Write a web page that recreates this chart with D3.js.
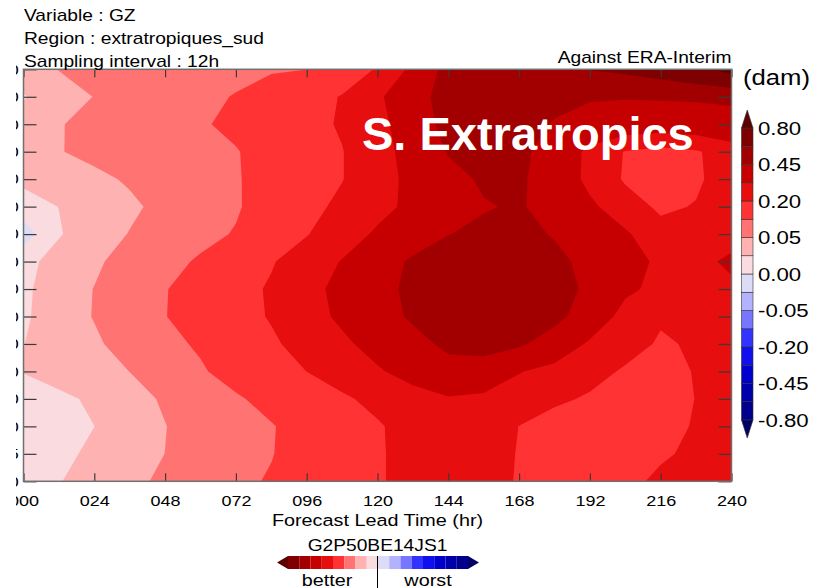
<!DOCTYPE html>
<html>
<head>
<meta charset="utf-8">
<script src="https://cdn.jsdelivr.net/npm/d3@7"></script>
<style>
  body { margin: 0; background: #fff; }
  text { font-family: "Liberation Sans", Arial, Helvetica, sans-serif; }
</style>
</head>
<body>
<div class="canvas"></div>
<script>
// forecast lead times (hr), one column per lead time
const leadTimes = [0, 12, 24, 36, 48, 60, 72, 84, 96, 108, 120, 132, 144, 156, 168, 180, 192, 204, 216, 228, 240];
const xTicks = [0, 24, 48, 72, 96, 120, 144, 168, 192, 216, 240];

// pressure levels (hPa), top of plot first
const levels = [10, 20, 30, 50, 70, 100, 150, 200, 250, 300, 400, 500, 700, 850, 925, 1000];

// GZ score difference (dam), one row per level, one value per lead time
const p10 = [0.035, 0.051, 0.058, 0.065, 0.072, 0.079, 0.086, 0.0925, 0.0993, 0.149, 0.207, 0.324, 0.5, 0.52, 0.54, 0.57, 0.605, 0.63, 0.68, 0.75, 0.86];
const p20 = [0.018, 0.0355, 0.0508, 0.0634, 0.0759, 0.0885, 0.1027, 0.1358, 0.1689, 0.2044, 0.278, 0.401, 0.5, 0.53, 0.52, 0.49, 0.46, 0.46, 0.465, 0.47, 0.48];
const p30 = [0.032, 0.048, 0.06, 0.0712, 0.0825, 0.0938, 0.1136, 0.1438, 0.174, 0.2085, 0.2675, 0.3628, 0.5, 0.55, 0.5, 0.44, 0.41, 0.37, 0.36, 0.37, 0.39];
const p50 = [0.03, 0.0484, 0.0587, 0.0682, 0.0777, 0.0872, 0.0967, 0.124, 0.1605, 0.197, 0.259, 0.342, 0.46, 0.52, 0.48, 0.395, 0.27, 0.195, 0.17, 0.19, 0.25];
const p70 = [0.025, 0.0323, 0.0425, 0.0538, 0.0676, 0.0814, 0.0953, 0.124, 0.1605, 0.197, 0.259, 0.327, 0.402, 0.47, 0.47, 0.3855, 0.27, 0.19, 0.14, 0.185, 0.25];
const p100 = [0.01, 0.0203, 0.0322, 0.0442, 0.059, 0.0765, 0.094, 0.129, 0.173, 0.22, 0.271, 0.323, 0.377, 0.44, 0.465, 0.395, 0.321, 0.24, 0.185, 0.205, 0.24];
const p150 = [-0.009, 0.018, 0.0347, 0.0513, 0.068, 0.0847, 0.1038, 0.1497, 0.1957, 0.2535, 0.314, 0.38, 0.4468, 0.48, 0.48, 0.442, 0.378, 0.314, 0.23, 0.25, 0.26];
const p200 = [0.012, 0.03, 0.0447, 0.0629, 0.083, 0.1067, 0.1499, 0.193, 0.247, 0.305, 0.3865, 0.47, 0.52, 0.54, 0.52, 0.48, 0.416, 0.344, 0.28, 0.27, 0.32];
const p250 = [0.015, 0.0338, 0.0508, 0.0738, 0.0968, 0.132, 0.169, 0.21, 0.266, 0.3307, 0.4076, 0.48, 0.54, 0.56, 0.55, 0.51, 0.422, 0.322, 0.27, 0.25, 0.28];
const p300 = [0.016, 0.0345, 0.0515, 0.0748, 0.0981, 0.1328, 0.1686, 0.2065, 0.26, 0.319, 0.3927, 0.47, 0.52, 0.53, 0.51, 0.49, 0.38, 0.26, 0.21, 0.22, 0.23];
const p400 = [0.0195, 0.0326, 0.0451, 0.0628, 0.0836, 0.1083, 0.1477, 0.187, 0.232, 0.28, 0.3384, 0.4048, 0.48, 0.5, 0.47, 0.382, 0.283, 0.233, 0.19, 0.21, 0.22];
const p500 = [0.021, 0.03, 0.04, 0.0502, 0.0714, 0.093, 0.125, 0.1624, 0.2005, 0.2439, 0.288, 0.34, 0.4, 0.39, 0.305, 0.2658, 0.2285, 0.19, 0.17, 0.205, 0.22];
const p700 = [0.008, 0.0149, 0.0238, 0.0384, 0.0539, 0.0731, 0.0923, 0.12, 0.153, 0.186, 0.225, 0.26, 0.29, 0.275, 0.25, 0.215, 0.19, 0.16, 0.16, 0.202, 0.22];
const p850 = [0.006, 0.0129, 0.0199, 0.0345, 0.0492, 0.0648, 0.0805, 0.0962, 0.125, 0.158, 0.191, 0.235, 0.265, 0.25, 0.199, 0.165, 0.14, 0.14, 0.16, 0.21, 0.23];
const p925 = [0.006, 0.0145, 0.0244, 0.0372, 0.0502, 0.0658, 0.0817, 0.0975, 0.1268, 0.1586, 0.1905, 0.23, 0.255, 0.24, 0.195, 0.16, 0.14, 0.15, 0.19, 0.215, 0.23];
const p1000 = [0.008, 0.0188, 0.0306, 0.0425, 0.0558, 0.0715, 0.0871, 0.1052, 0.1342, 0.1632, 0.1922, 0.225, 0.25, 0.235, 0.193, 0.16, 0.15, 0.18, 0.215, 0.225, 0.23];
const grid = [p10, p20, p30, p50, p70, p100, p150, p200, p250, p300, p400, p500, p700, p850, p925, p1000];

// contour levels and fill colours (one more colour than levels)
const contourLevels = [-0.8, -0.6, -0.45, -0.3, -0.2, -0.1, -0.05, -0.02, 0, 0.02, 0.05, 0.1, 0.2, 0.3, 0.45, 0.6, 0.8];
const bandColors = [
  '#000066', '#00008c', '#0000aa', '#0000cc', '#1010ee', '#3333ff', '#7676ff', '#b2b2ff', '#dddcf6',
  '#f9dbe0', '#ffb2b2', '#ff7373', '#ff3333', '#e60e0e', '#c60000', '#a20000', '#7e0000', '#5c0000'
];

const svg = d3.select('.canvas')
  .append('svg')
  .attr('width', 825)
  .attr('height', 588);

// the original figure was stretched sideways, so text is too
const stretch = 1.2;
const label = (parent, x, y, str, size, anchor = 'start') => parent.append('text')
  .attr('transform', `translate(${x},${y}) scale(${stretch},1)`)
  .attr('text-anchor', anchor)
  .style('font-size', size + 'px')
  .text(str);

// the picture is cropped on the left, axis labels get cut
svg.append('clipPath').attr('id', 'crop')
  .append('rect').attr('x', 16).attr('y', 0).attr('width', 809).attr('height', 588);

const page = svg.append('g').attr('clip-path', 'url(#crop)');

const plot = { left: 23.5, top: 69.3, width: 708, height: 412 };

const x = d3.scaleLinear()
  .domain([leadTimes[0], leadTimes[leadTimes.length - 1]])
  .range([plot.left, plot.left + plot.width]);

const y = d3.scalePoint()
  .domain(levels)
  .range([plot.top, plot.top + plot.height]);

// grid index -> pixel, contour coords are offset by half a cell
const xi = d3.scaleLinear().domain([0, leadTimes.length - 1]).range(x.range());
const yi = d3.scaleLinear().domain([0, levels.length - 1]).range(y.range());

svg.append('clipPath').attr('id', 'plot-area')
  .append('rect')
  .attr('x', plot.left).attr('y', plot.top)
  .attr('width', plot.width).attr('height', plot.height);

const contours = d3.contours()
  .size([leadTimes.length, levels.length])
  .thresholds(contourLevels)(grid.flat());

const path = d3.geoPath(d3.geoTransform({
  point(px, py) { this.stream.point(xi(px - 0.5), yi(py - 0.5)); }
}));

const field = page.append('g').attr('clip-path', 'url(#plot-area)');

field.append('rect')
  .attr('x', plot.left).attr('y', plot.top)
  .attr('width', plot.width).attr('height', plot.height)
  .attr('fill', bandColors[0]);

field.selectAll('path')
  .data(contours)
  .enter()
  .append('path')
  .attr('d', path)
  .attr('fill', (d, i) => bandColors[i + 1]);

// axes, ticks pointing inwards
const tickColor = '#3a3a3a';

const xAxisGroup = page.append('g')
  .attr('transform', `translate(0, ${plot.top + plot.height})`)
  .call(d3.axisBottom(x).tickValues(xTicks).tickFormat(d3.format('03d'))
    .tickSizeInner(-8).tickSizeOuter(0).tickPadding(14));

const xTopGroup = page.append('g')
  .attr('transform', `translate(0, ${plot.top})`)
  .call(d3.axisTop(x).tickValues(xTicks).tickFormat('').tickSizeInner(-8).tickSizeOuter(0));

const yAxisGroup = page.append('g')
  .attr('transform', `translate(${plot.left}, 0)`)
  .call(d3.axisLeft(y).tickSizeInner(-13).tickSizeOuter(0).tickPadding(4));

const yRightGroup = page.append('g')
  .attr('transform', `translate(${plot.left + plot.width}, 0)`)
  .call(d3.axisRight(y).tickFormat('').tickSizeInner(-13).tickSizeOuter(0));

[xAxisGroup, xTopGroup, yAxisGroup, yRightGroup].forEach(g => {
  g.select('.domain').remove();
  g.selectAll('line').attr('stroke', tickColor).attr('stroke-width', 1.2);
  g.selectAll('text')
    .attr('fill', '#000')
    .attr('transform', `scale(${stretch},1)`)
    .style('font-size', '15px')
    .style('font-family', '"Liberation Sans", Arial, sans-serif');
});

page.append('rect')
  .attr('x', plot.left).attr('y', plot.top)
  .attr('width', plot.width).attr('height', plot.height)
  .attr('fill', 'none')
  .attr('stroke', '#707070')
  .attr('stroke-width', 1.5);

// titles
const titleLines = ['Variable : GZ', 'Region : extratropiques_sud', 'Sampling interval : 12h'];
titleLines.forEach((t, i) => label(page, 24, 21 + i * 23, t, 16));

label(page, plot.left + plot.width, 63, 'Against ERA-Interim', 16, 'end');

page.append('text')
  .attr('x', 362)
  .attr('y', 150)
  .attr('fill', '#fff')
  .style('font-size', '47px')
  .style('font-weight', 'bold')
  .text('S. Extratropics');

label(page, x(120), 526, 'Forecast Lead Time (hr)', 16.5, 'middle');

// colour bar on the right
const cb = { x: 741.5, w: 11.5 };
const cbY = d3.scalePoint().domain(contourLevels).range([420, 128]);
const colorbar = page.append('g');

colorbar.selectAll('rect')
  .data(d3.pairs(contourLevels))
  .enter()
  .append('rect')
  .attr('x', cb.x)
  .attr('y', d => cbY(d[1]))
  .attr('width', cb.w)
  .attr('height', d => cbY(d[0]) - cbY(d[1]))
  .attr('fill', (d, i) => bandColors[i + 1])
  .attr('stroke', '#333')
  .attr('stroke-width', 0.6);

const cbTop = cbY(contourLevels[contourLevels.length - 1]);
const cbBottom = cbY(contourLevels[0]);
colorbar.append('path')
  .attr('d', `M${cb.x},${cbTop}L${cb.x + cb.w},${cbTop}L${cb.x + cb.w / 2},${cbTop - 18}Z`)
  .attr('fill', bandColors[bandColors.length - 1]).attr('stroke', '#333').attr('stroke-width', 0.6);
colorbar.append('path')
  .attr('d', `M${cb.x},${cbBottom}L${cb.x + cb.w},${cbBottom}L${cb.x + cb.w / 2},${cbBottom + 18}Z`)
  .attr('fill', bandColors[0]).attr('stroke', '#333').attr('stroke-width', 0.6);

contourLevels
  .filter((d, i) => i % 2 === 0)
  .forEach(d => label(colorbar, 758, cbY(d) + 6.6, d.toFixed(2), 18.5));

label(page, 743, 85, '(dam)', 21.4);

// small better / worst legend under the plot
const legendColors = bandColors.slice().reverse();
const legX = d3.scaleLinear().domain([0, legendColors.length - 2]).range([288, 468]);
const legY = 556, legH = 13;
const legend = page.append('g');

legend.selectAll('rect')
  .data(legendColors.slice(1, -1))
  .enter()
  .append('rect')
  .attr('x', (d, i) => legX(i))
  .attr('y', legY)
  .attr('width', legX(1) - legX(0))
  .attr('height', legH)
  .attr('fill', d => d);

legend.append('path')
  .attr('d', `M${legX(0)},${legY}L${legX(0)},${legY + legH}L${legX(0) - 11},${legY + legH / 2}Z`)
  .attr('fill', legendColors[0]);
const legEnd = legX(legendColors.length - 2);
legend.append('path')
  .attr('d', `M${legEnd},${legY}L${legEnd},${legY + legH}L${legEnd + 11},${legY + legH / 2}Z`)
  .attr('fill', legendColors[legendColors.length - 1]);

legend.append('line')
  .attr('x1', x(120)).attr('x2', x(120))
  .attr('y1', legY).attr('y2', 588)
  .attr('stroke', '#000').attr('stroke-width', 1);

label(legend, x(120), 551, 'G2P50BE14JS1', 16, 'middle');
label(legend, 327, 586, 'better', 16.5, 'middle');
label(legend, 428, 586, 'worst', 16.5, 'middle');
</script>
</body>
</html>
